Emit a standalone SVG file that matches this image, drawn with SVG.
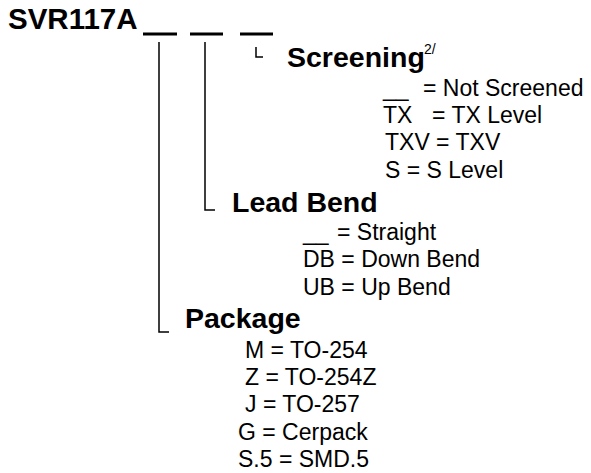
<svg xmlns="http://www.w3.org/2000/svg" width="591" height="473" viewBox="0 0 591 473">
<style>
text{font-family:"Liberation Sans",Arial,sans-serif;fill:#000}
.h{font-weight:bold;font-size:28.5px}
.t{font-size:23px}
.sup{font-size:14px}
.bar{stroke:#000;stroke-width:3;fill:none}
.ln{stroke:#000;stroke-width:1.5;fill:none}
</style>
<rect width="591" height="473" fill="#fff"/>
<g id="part-number">
<text class="h" x="8" y="29" style="font-size:29.5px">SVR117A</text>
<line class="bar" x1="143" y1="34" x2="177" y2="34"/>
<line class="bar" x1="190" y1="34" x2="223" y2="34"/>
<line class="bar" x1="240" y1="34" x2="273" y2="34"/>
</g>
<g id="connectors">
<path class="ln" d="M159 42 V332 H169"/>
<path class="ln" d="M205 42 V210 H215"/>
<path class="ln" d="M256 47 V57 H263"/>
</g>
<g id="screening">
<text class="h" x="287" y="67">Screening</text>
<text class="sup" x="424" y="54">2/</text>
<text class="t" x="383" y="96">__</text>
<text class="t" x="423" y="96">= Not Screened</text>
<text class="t" x="383" y="123">TX</text>
<text class="t" x="432" y="123">= TX Level</text>
<text class="t" x="385" y="150">TXV = TXV</text>
<text class="t" x="385" y="178">S = S Level</text>
</g>
<g id="lead-bend">
<text class="h" x="232" y="212">Lead Bend</text>
<text class="t" x="303" y="240">__</text>
<text class="t" x="337" y="240">= Straight</text>
<text class="t" x="303" y="267">DB = Down Bend</text>
<text class="t" x="303" y="295">UB = Up Bend</text>
</g>
<g id="package">
<text class="h" x="185" y="328">Package</text>
<text class="t" x="245" y="358">M = TO-254</text>
<text class="t" x="245" y="385">Z = TO-254Z</text>
<text class="t" x="245" y="412">J = TO-257</text>
<text class="t" x="238" y="440">G = Cerpack</text>
<text class="t" x="238" y="467">S.5 = SMD.5</text>
</g>
</svg>
